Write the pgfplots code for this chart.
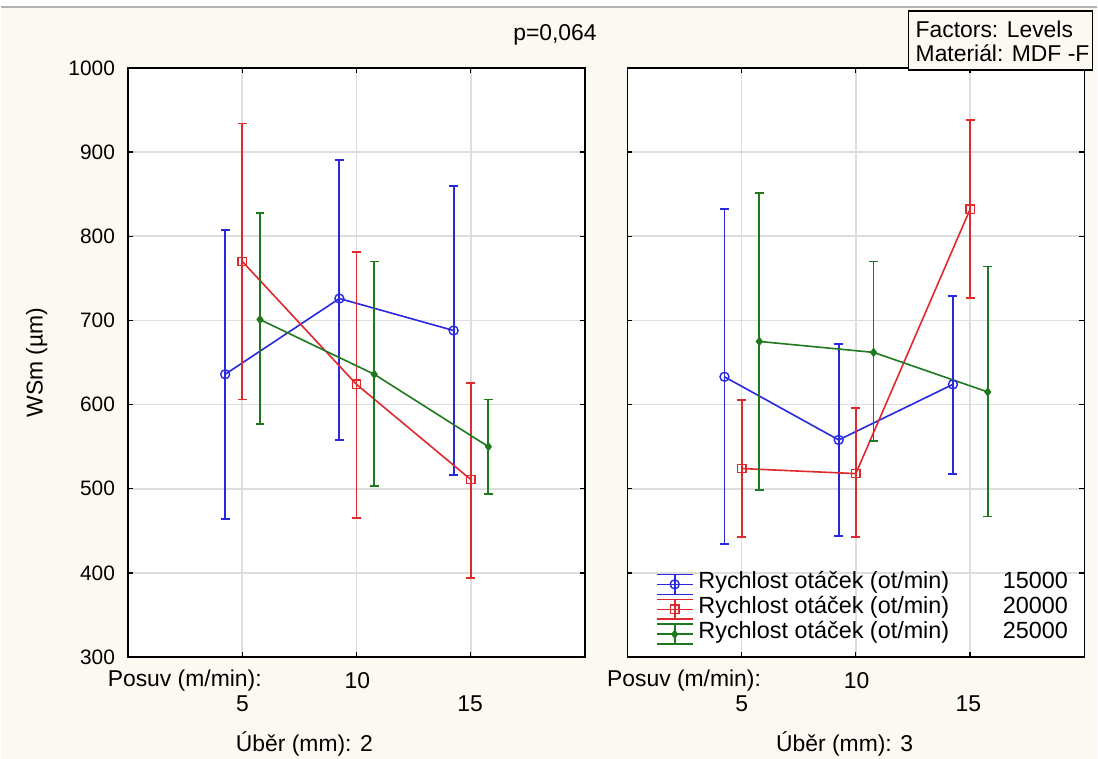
\documentclass[border=0pt]{standalone}
\usepackage{pgfplots}
\pgfplotsset{compat=1.18}
\usepackage{pgfplotstable}
\usepackage{fontspec}
\setmainfont{Liberation Sans}
\definecolor{cblue}{RGB}{40,40,225}
\definecolor{cred}{RGB}{225,40,45}
\definecolor{cgreen}{RGB}{30,120,30}
\definecolor{cream}{RGB}{252,249,242}
\definecolor{gridc}{RGB}{222,222,222}

% left panel (Uber 2): x = category position (1=5, 2=10, 3=15) with offsets
\pgfplotstableread{
x y hi lo
0.85 636 807 464
1.85 726 891 558
2.85 688 860 516
}\LBlue
\pgfplotstableread{
x y hi lo
1 770 934 606
2 624 781 465
3 511 626 394
}\LRed
\pgfplotstableread{
x y hi lo
1.155 701 828 577
2.155 636 770 503
3.155 550 606 494
}\LGreen
% right panel (Uber 3)
\pgfplotstableread{
x y hi lo
0.85 633 832 434
1.85 558 672 444
2.85 624 729 517
}\RBlue
\pgfplotstableread{
x y hi lo
1 524 605 443
2 518 596 443
3 832 938 727
}\RRed
\pgfplotstableread{
x y hi lo
1.155 675 851 499
2.155 662 770 557
3.155 615 764 467
}\RGreen

\pgfplotsset{
  panel/.style={
    scale only axis, width=457.5bp, height=590bp,
    xmin=0, xmax=4, ymin=300, ymax=1000,
    xtick={1,2,3}, xticklabels={},
    ytick={300,400,...,1000},
    grid=major, major grid style={draw=gridc, line width=1.6bp},
    tick pos=both, tick align=inside, major tick length=5bp,
    axis line style={line width=1.3bp},
    every tick/.style={black, line width=1.3bp},
    axis background/.style={fill=white},
    /pgf/number format/assume math mode=true,
    /pgf/number format/set thousands separator={},
    yticklabel style={font=\fontsize{21}{25}\selectfont, inner xsep=0pt, xshift=-13bp},
    clip=false,
    error bars/y dir=both, error bars/y explicit,
    error bars/error bar style={line width=1.9bp, solid},
    error bars/error mark options={rotate=90, mark size=4.5bp, line width=1.9bp, solid},
  },
  sblue/.style={color=cblue, line width=1.6bp, mark=o, mark size=4.5bp,
    mark options={solid, line width=1.4bp}},
  sred/.style={color=cred, line width=1.6bp, mark=square, mark size=4.2bp,
    mark options={solid, line width=1.4bp}},
  sgreen/.style={color=cgreen, line width=1.6bp, mark=diamond*, mark size=3.5bp,
    mark options={solid}},
}

\begin{document}
\begin{tikzpicture}[x=1bp,y=1bp,font=\fontsize{23}{27}\selectfont]
\fill[cream] (0,0) rectangle (1098,760);
\fill[white] (0,753) rectangle (1098,760);
\draw[gray!60,line width=1.5bp] (0,753)--(1098,753);
\path[use as bounding box] (0,0) rectangle (1098,760);

\begin{axis}[panel, at={(127.5bp,102bp)}, anchor=south west]
\addplot[sblue, error bars/y dir=both, error bars/y explicit] table[x=x,y=y,y error plus expr=\thisrow{hi}-\thisrow{y},y error minus expr=\thisrow{y}-\thisrow{lo}]{\LBlue};
\addplot[sred, error bars/y dir=both, error bars/y explicit] table[x=x,y=y,y error plus expr=\thisrow{hi}-\thisrow{y},y error minus expr=\thisrow{y}-\thisrow{lo}]{\LRed};
\addplot[sgreen, error bars/y dir=both, error bars/y explicit] table[x=x,y=y,y error plus expr=\thisrow{hi}-\thisrow{y},y error minus expr=\thisrow{y}-\thisrow{lo}]{\LGreen};
\end{axis}

\begin{axis}[panel, at={(627.5bp,102bp)}, anchor=south west, yticklabels={},
  legend cell align=left,
  legend style={at={(0.062,0.145)}, anchor=north west, draw=none, fill=none,
    font=\fontsize{23.5}{25}\selectfont, row sep=0pt, inner sep=0pt,
    nodes={inner ysep=0pt, inner xsep=5bp, text height=17bp, text depth=8bp}},
  legend image code/.code={
    \draw[#1,mark=none] (0bp,10bp)--(36bp,10bp) (0bp,-10bp)--(36bp,-10bp) (18bp,-10bp)--(18bp,10bp);
    \draw[mark repeat=2,mark phase=2,#1] plot coordinates {(0bp,0bp) (18bp,0bp) (36bp,0bp)};
  }]
\addplot[sblue, error bars/y dir=both, error bars/y explicit] table[x=x,y=y,y error plus expr=\thisrow{hi}-\thisrow{y},y error minus expr=\thisrow{y}-\thisrow{lo}]{\RBlue};
\addlegendentry{\hbox to 370bp{Rychlost otáček (ot/min)\hfill 15000}}
\addplot[sred, error bars/y dir=both, error bars/y explicit] table[x=x,y=y,y error plus expr=\thisrow{hi}-\thisrow{y},y error minus expr=\thisrow{y}-\thisrow{lo}]{\RRed};
\addlegendentry{\hbox to 370bp{Rychlost otáček (ot/min)\hfill 20000}}
\addplot[sgreen, error bars/y dir=both, error bars/y explicit] table[x=x,y=y,y error plus expr=\thisrow{hi}-\thisrow{y},y error minus expr=\thisrow{y}-\thisrow{lo}]{\RGreen};
\addlegendentry{\hbox to 370bp{Rychlost otáček (ot/min)\hfill 25000}}
\end{axis}

% header texts
\node at (555,725) {p=0,064};
\draw[line width=1.3bp, fill=cream] (909,690) rectangle (1093,749);
\node[anchor=west, inner sep=0pt] at (916,731) {Factors: Levels};
\node[anchor=west, inner sep=0pt] at (916,707) {Materiál: MDF -F};

% y label
\node[rotate=90] at (36,397) {WSm (µm)};

% x labels left panel
\node[anchor=west, inner sep=0pt] at (107,78) {Posuv (m/min):};
\node at (357,78) {10};
\node at (242,55) {5};
\node at (470,55) {15};
\node at (304,15) {Úběr (mm): 2};
% x labels right panel
\node[anchor=west, inner sep=0pt] at (607,78) {Posuv (m/min):};
\node at (857,78) {10};
\node at (742,55) {5};
\node at (969,55) {15};
\node at (845,15) {Úběr (mm): 3};
\end{tikzpicture}
\end{document}
